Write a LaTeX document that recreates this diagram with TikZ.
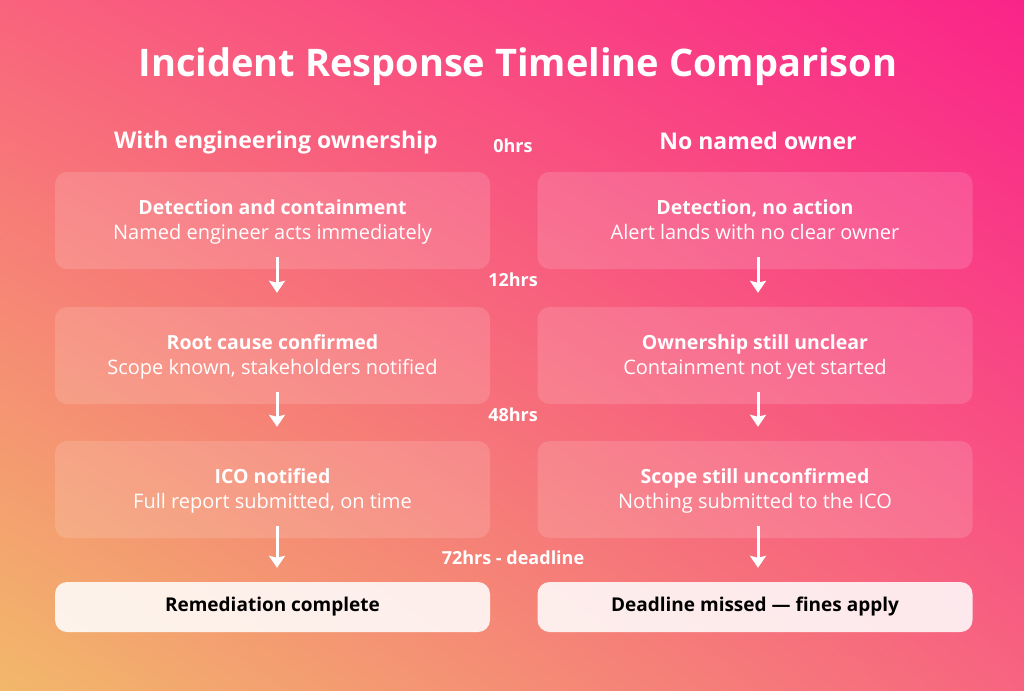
\documentclass[tikz,border=0pt]{standalone}
\usepackage{fontspec}
\setmainfont{Open Sans}
\usetikzlibrary{arrows.meta,shadings}
\definecolor{cTL}{HTML}{F9637D}
\definecolor{cTR}{HTML}{FA2489}
\definecolor{cBL}{HTML}{F2B86A}
\definecolor{cBR}{HTML}{F76480}
\begin{document}
\begin{tikzpicture}[x=1pt,y=-1pt,
  card/.style={fill=white, fill opacity=0.14, text opacity=1, rounded corners=12pt,
    minimum width=435pt, minimum height=97pt, inner sep=0pt, align=center,
    text=white, font=\fontsize{20}{25}\selectfont},
  endcard/.style={fill=white, fill opacity=0.86, text opacity=1, rounded corners=12pt,
    minimum width=435pt, minimum height=50pt, inner sep=0pt,
    text=black, font=\bfseries\fontsize{19}{22}\selectfont},
  timelbl/.style={text=white, font=\bfseries\fontsize{18}{20}\selectfont, inner sep=0pt},
  header/.style={text=white, font=\bfseries\fontsize{23}{26}\selectfont, inner sep=0pt},
  arr/.style={draw=white, line width=3pt, -{Stealth[length=12pt,width=16pt,inset=2pt]}}
]
\useasboundingbox (0,0) rectangle (1024,690);
\begin{scope}[y=1pt]
  \shade[upper left=cTL, upper right=cTR, lower left=cBL, lower right=cBR] (0,-690) rectangle (1024,0);
\end{scope}

\node[text=white, font=\bfseries\fontsize{38}{42}\selectfont, inner sep=0pt] (title) at (518,67) {Incident Response Timeline Comparison};

\node[header] (hl) at (276,143) {With engineering ownership};
\node[header] (hr) at (758,140.5) {No named owner};

\newcommand{\cardtext}[2]{{\fontsize{19.5}{25}\selectfont\bfseries\rule{0pt}{17.5pt}#1}\\\rule[-5.3pt]{0pt}{5.3pt}#2}

\node[card] (l1) at (272.5,220.5) {\cardtext{Detection and containment}{Named engineer acts immediately}};
\node[card] (l2) at (272.5,355.5) {\cardtext{Root cause confirmed}{Scope known, stakeholders notified}};
\node[card] (l3) at (272.5,489.5) {\cardtext{ICO notified}{Full report submitted, on time}};
\node[endcard] (l4) at (272.5,607) {Remediation complete};

\node[card] (r1) at (755,220.5) {\cardtext{Detection, no action}{Alert lands with no clear owner}};
\node[card] (r2) at (755,355.5) {\cardtext{Ownership still unclear}{Containment not yet started}};
\node[card] (r3) at (755,489.5) {\cardtext{Scope still unconfirmed}{Nothing submitted to the ICO}};
\node[endcard] (r4) at (755,607) {Deadline missed — fines apply};

\node[timelbl] (t0) at (513,146) {0hrs};
\node[timelbl] (t1) at (513,280) {12hrs};
\node[timelbl] (t2) at (513,415) {48hrs};
\node[timelbl] (t3) at (513,558) {72hrs - deadline};

\foreach \a/\b in {l1/l2,l2/l3,l3/l4}{
  \draw[arr] ([xshift=4.5pt,yshift=12pt]\a.south) -- ([xshift=4.5pt,yshift=14pt]\b.north);
}
\foreach \a/\b in {r1/r2,r2/r3,r3/r4}{
  \draw[arr] ([xshift=3pt,yshift=12pt]\a.south) -- ([xshift=3pt,yshift=14pt]\b.north);
}
\end{tikzpicture}
\end{document}
